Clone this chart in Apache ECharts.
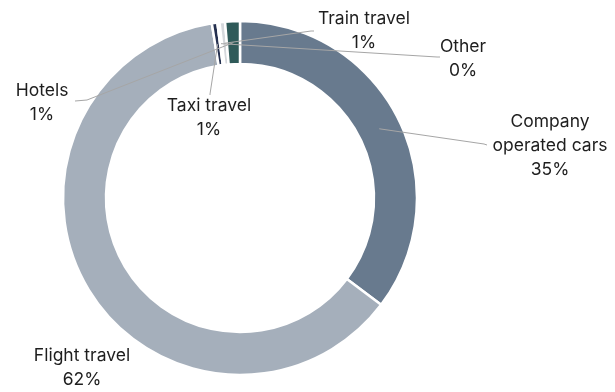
<!DOCTYPE html>
<html>
<head>
<meta charset="utf-8">
<script src="https://cdn.jsdelivr.net/npm/echarts@6/dist/echarts.min.js"></script>
<style>
  html, body { margin: 0; padding: 0; background: #ffffff; }
  #chart { width: 615px; height: 392px; }
</style>
</head>
<body>
<div id="chart"></div>
<script>
// Travel emissions by category (share of total, %)
const categories = ['Company\noperated cars', 'Flight travel', 'Taxi travel', 'Other', 'Train travel', 'Hotels'];
const shares = [35.35, 62.2, 0.5, 0.2, 0.5, 1.35];
const sliceColors = ['#687a8e', '#a5afbb', '#24304f', '#eceef0', '#d5d8dc', '#2f5a59'];

// ring geometry (px)
const CX = 240, CY = 198, R_IN = 134, R_OUT = 177;
const R_MID = (R_IN + R_OUT) / 2;

// label placement: text centre plus the two points the leader line passes through
const labelSpots = [
  { x: 550, y: 146, elbow: [484, 144], end: [487, 145] },
  { x: 82,  y: 368, elbow: [82, 368],  end: [82, 368] },
  { x: 209, y: 118, elbow: [210, 94],  end: [210, 95] },
  { x: 463, y: 59,  elbow: [437, 57],  end: [440, 57] },
  { x: 364, y: 31,  elbow: [311, 31],  end: [314, 31] },
  { x: 42,  y: 103, elbow: [87, 100],  end: [75, 101] }
];

const total = shares.reduce((a, b) => a + b, 0);
function midAngle(i) {
  let before = 0;
  for (let k = 0; k < i; k++) before += shares[k];
  return ((before + shares[i] / 2) / total) * Math.PI * 2;
}

const ringBase = {
  type: 'pie',
  center: [CX, CY],
  radius: [R_IN, R_OUT],
  startAngle: 90,
  clockwise: true,
  avoidLabelOverlap: false,
  minShowLabelAngle: 0,
  percentPrecision: 0,
  emphasis: { disabled: true },
  silent: true
};

const chart = echarts.init(document.getElementById('chart'), null, { renderer: 'canvas' });

chart.setOption({
  animation: false,
  backgroundColor: '#ffffff',
  series: [
    // coloured ring
    Object.assign({}, ringBase, {
      z: 2,
      itemStyle: { borderColor: '#ffffff', borderWidth: 2.5 },
      label: { show: false },
      labelLine: { show: false },
      data: categories.map((name, i) => ({
        name: name,
        value: shares[i],
        itemStyle: { color: sliceColors[i] }
      }))
    }),
    // transparent copy on top that carries the labels, so leader lines cross the ring
    Object.assign({}, ringBase, {
      z: 5,
      itemStyle: { color: 'rgba(0,0,0,0)', borderWidth: 0 },
      label: {
        show: true,
        position: 'outside',
        formatter: '{b}\n{d}%',
        fontFamily: 'Inter',
        fontSize: 17.5,
        lineHeight: 24,
        color: '#1e1e1e',
        align: 'center'
      },
      labelLine: {
        show: true,
        showAbove: true,
        length: 10,
        length2: 10,
        lineStyle: { color: '#a6a6a6', width: 1 }
      },
      labelLayout: function (params) {
        const i = params.dataIndex;
        const a = midAngle(i);
        const pt = [CX + R_MID * Math.sin(a), CY - R_MID * Math.cos(a)];
        const s = labelSpots[i];
        return {
          x: s.x,
          y: s.y,
          align: 'center',
          verticalAlign: 'middle',
          labelLinePoints: [pt, s.elbow, s.end]
        };
      },
      data: categories.map((name, i) => ({
        name: name,
        value: shares[i],
        labelLine: { show: i !== 1 }
      }))
    })
  ]
});
</script>
</body>
</html>
